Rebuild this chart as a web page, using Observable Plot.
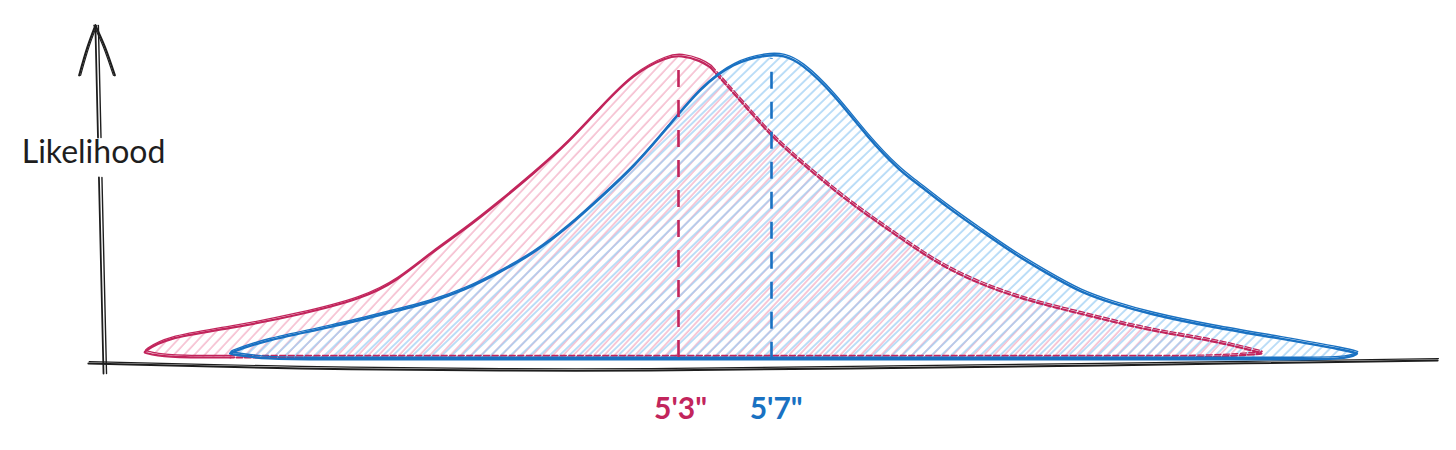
<!DOCTYPE html>
<html><head><meta charset="utf-8">
<script src="https://cdn.jsdelivr.net/npm/d3@7"></script>
<script src="https://cdn.jsdelivr.net/npm/@observablehq/plot@0.6"></script>
<style>html,body{margin:0;padding:0;background:#fff;} #chart svg{display:block}</style>
</head><body><div id="chart"></div>
<script>
// x: height in inches, y: relative likelihood (peak = 1)
const redTopX = [40.0, 40.85, 43.73, 46.61, 49.45, 50.91, 52.33, 53.75, 55.22, 56.76, 58.23, 59.65, 61.06, 62.53, 63.09, 63.95, 64.38, 65.54, 66.66, 67.52, 68.98, 70.40, 72.55, 74.57, 77.41, 80.29, 83.17, 86.01, 88.16];
const redTopY = [0.017, 0.063, 0.096, 0.139, 0.195, 0.254, 0.343, 0.419, 0.508, 0.607, 0.706, 0.825, 0.937, 0.993, 0.997, 0.980, 0.957, 0.858, 0.759, 0.693, 0.597, 0.508, 0.393, 0.287, 0.198, 0.145, 0.089, 0.056, 0.013];
const redBase = 0.0;

const blueTopX = [43.65, 45.15, 48.03, 50.91, 52.33, 53.75, 55.22, 56.76, 58.23, 59.65, 61.06, 62.53, 63.95, 65.37, 66.83, 67.52, 68.25, 69.67, 71.13, 72.55, 73.11, 74.57, 75.99, 77.41, 78.87, 80.29, 81.71, 83.17, 86.01, 88.89, 91.77, 92.20];
const blueTopY = [0.013, 0.056, 0.099, 0.155, 0.182, 0.221, 0.277, 0.343, 0.429, 0.528, 0.627, 0.759, 0.891, 0.974, 1.000, 0.997, 0.974, 0.871, 0.726, 0.614, 0.584, 0.495, 0.419, 0.343, 0.277, 0.215, 0.178, 0.145, 0.099, 0.063, 0.023, 0.013];
const blueBase = -0.006;

const meanLabels = ["5'3\"", "5'7\""];
const meanX = [63.0, 67.0];
const meanTopY = [0.980, 0.987];
const labelX = [63.09, 67.2];
const labelY = [-0.172, -0.172];
const seriesColors = ["#c2255c", "#1971c2"];
const hatchColors = ["#f3adc4", "#99ccf3"];

const axisTitle = "Likelihood";
const axisTitleX = 37.84, axisTitleY = 0.675;
const yAxisX = [37.92, 38.27];            // top, bottom
const yAxisY = [1.096, -0.053];
const yAxisGap = [0.726, 0.594];
const arrowX = [37.22, 37.58, 37.92, 38.33, 38.76];
const arrowY = [0.931, 1.025, 1.096, 1.025, 0.931];
const xAxisX = [37.62, 46.74, 55.34, 61.80, 70.40, 81.15, 95.65];
const xAxisY = [-0.020, -0.036, -0.043, -0.043, -0.036, -0.026, -0.010];

function pts(xs, ys) { return xs.map((x, i) => ({x, y: ys[i]})); }
function loopOf(topX, topY, base) {
  const top = pts(topX, topY);
  const n = top.length;
  // tips listed twice so the smoothing spline reaches them
  const topPinned = [top[0], ...top, top[n - 1]];
  const bottom = topX.slice(1, -1).map(x => ({x, y: base})).reverse();
  return {top, topPinned, bottom, loop: topPinned.concat(bottom)};
}
const red = loopOf(redTopX, redTopY, redBase);
const blue = loopOf(blueTopX, blueTopY, blueBase);
const redSolid = [...red.bottom.filter(p => p.x <= 43.8), ...red.topPinned.filter(p => p.x <= 64.4)];
const redDashed = [...red.topPinned.filter(p => p.x >= 64.38), ...red.bottom.filter(p => p.x >= 43.7)];

const yAt = t => yAxisX[0] + (yAxisX[1] - yAxisX[0]) * t;
const tOf = y => (yAxisY[0] - y) / (yAxisY[0] - yAxisY[1]);
const yUpper = [{x: yAxisX[0], y: yAxisY[0]}, {x: yAt(tOf(yAxisGap[0])), y: yAxisGap[0]}];
const yLower = [{x: yAt(tOf(yAxisGap[1])), y: yAxisGap[1]}, {x: yAxisX[1], y: yAxisY[1]}];
const arrowL = pts(arrowX.slice(0, 3), arrowY.slice(0, 3));
const arrowR = pts(arrowX.slice(2), arrowY.slice(2));
const xAxis = pts(xAxisX, xAxisY);

const ink = "#1e1e1e";
function dbl(data, opts, curve = "basis") {
  return [
    Plot.line(data, {x: "x", y: "y", curve, ...opts}),
    Plot.line(data, {x: "x", y: "y", curve, ...opts, strokeWidth: (opts.strokeWidth || 2) * 0.6, dx: 0.8, dy: -2})
  ];
}

const chart = Plot.plot({
  width: 1456, height: 450,
  marginTop: 0, marginRight: 0, marginBottom: 0, marginLeft: 0,
  x: {domain: [33.839, 96.462], axis: null},
  y: {domain: [-0.3069, 1.1782], axis: null},
  style: {background: "#fff"},
  marks: [
    // axes
    ...dbl(xAxis, {stroke: ink, strokeWidth: 2}, "catmull-rom"),
    Plot.line(yUpper, {x: "x", y: "y", stroke: ink, strokeWidth: 1.8}),
    Plot.line(yUpper, {x: "x", y: "y", stroke: ink, strokeWidth: 1.4, dx: 3}),
    Plot.line(yLower, {x: "x", y: "y", stroke: ink, strokeWidth: 1.8}),
    Plot.line(yLower, {x: "x", y: "y", stroke: ink, strokeWidth: 1.4, dx: 3}),
    Plot.line(arrowL, {x: "x", y: "y", stroke: ink, strokeWidth: 2, curve: "catmull-rom"}),
    Plot.line(arrowR, {x: "x", y: "y", stroke: ink, strokeWidth: 2, curve: "catmull-rom"}),
    Plot.line(arrowL, {x: "x", y: "y", stroke: ink, strokeWidth: 1.2, curve: "catmull-rom", dx: 1.5}),
    Plot.line(arrowR, {x: "x", y: "y", stroke: ink, strokeWidth: 1.2, curve: "catmull-rom", dx: -1.5}),
    Plot.text([axisTitle], {x: axisTitleX, y: axisTitleY, text: d => d, fontSize: 32, fontFamily: "Lato, sans-serif", fill: ink, textAnchor: "middle", lineAnchor: "middle"}),
    // red distribution
    Plot.line(red.loop, {x: "x", y: "y", curve: "basis-closed", fill: "url(#hatchRed)", stroke: "none"}),
    ...dbl(redSolid, {stroke: seriesColors[0], strokeWidth: 2.2}),
    // blue distribution
    Plot.line(blue.loop, {x: "x", y: "y", curve: "basis-closed", fill: "url(#hatchBlue)", stroke: "none"}),
    ...dbl(redDashed, {stroke: seriesColors[0], strokeWidth: 2.2, strokeDasharray: "6,2.5"}),
    Plot.line(blue.loop, {x: "x", y: "y", curve: "basis-closed", stroke: seriesColors[1], strokeWidth: 2.4}),
    Plot.line(blue.loop, {x: "x", y: "y", curve: "basis-closed", stroke: seriesColors[1], strokeWidth: 1.4, dx: 0.8, dy: -2}),
    // mean markers
    Plot.ruleX(meanX.map((x, i) => ({x, i})), {x: "x", y1: d => d.i === 0 ? redBase : blueBase, y2: d => meanTopY[d.i], stroke: d => seriesColors[d.i], strokeWidth: 2.6, strokeDasharray: "17,13"}),
    Plot.text(meanLabels.map((t, i) => ({t, i})), {x: d => labelX[d.i], y: d => labelY[d.i], text: "t", fill: d => seriesColors[d.i], fontSize: 30, fontWeight: 700, fontFamily: "Lato, sans-serif", textAnchor: "middle", lineAnchor: "middle"})
  ]
});

const NS = "http://www.w3.org/2000/svg";
const defs = document.createElementNS(NS, "defs");
defs.innerHTML = `
<pattern id="hatchRed" patternUnits="userSpaceOnUse" width="7.5" height="20" patternTransform="rotate(43)">
  <line x1="1" y1="0" x2="1" y2="20" stroke="${hatchColors[0]}" stroke-width="1.3"/>
</pattern>
<pattern id="hatchBlue" patternUnits="userSpaceOnUse" width="6.8" height="20" patternTransform="rotate(46) translate(3.4,0)">
  <line x1="1" y1="0" x2="1" y2="20" stroke="${hatchColors[1]}" stroke-width="1.3"/>
</pattern>`;
chart.insertBefore(defs, chart.firstChild);
document.getElementById("chart").appendChild(chart);
</script>
</body></html>
